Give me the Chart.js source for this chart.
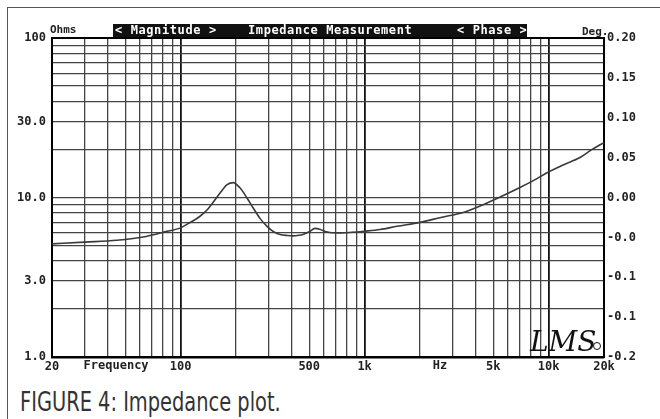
<!DOCTYPE html>
<html>
<head>
<meta charset="utf-8">
<script src="https://cdn.jsdelivr.net/npm/chart.js@4/dist/chart.umd.min.js"></script>
<style>
html, body { margin:0; padding:0; background:#fff; }
#page { position:relative; width:660px; height:419px; overflow:hidden; background:#fff; }
#frame { position:absolute; left:7px; top:7px; width:700px; height:500px; border-left:1.5px solid #555; border-top:1.5px solid #555; }
#wrap { position:absolute; left:0; top:0; width:660px; height:380px; }
#caption { position:absolute; left:20px; top:389px; line-height:26px; font-family:"Liberation Sans Narrow","DejaVu Sans Condensed",sans-serif; font-size:26px; color:#333; white-space:nowrap; transform:scaleX(0.83); transform-origin:left top; }
</style>
</head>
<body>
<div id="page">
  <div id="frame"></div>
  <div id="wrap"><canvas id="myChart1"></canvas></div>
  <div id="caption">FIGURE 4: Impedance plot.</div>
</div>
<script>
//------------------ data ------------------//
// frequency (Hz) and impedance magnitude (Ohms)
const freqHz = [20, 30, 45, 65, 84, 100, 108, 127, 140, 150, 165, 179, 193, 210, 230, 247, 270, 295, 320, 347,
                380, 408, 440, 462, 500, 537, 575, 610, 648, 750, 850, 1000, 1213, 1500, 2000, 2600, 3428, 4300,
                5240, 6985, 8300, 9800, 12000, 14800, 17000, 20000]
const impedanceOhms = [5.12, 5.25, 5.39, 5.7, 6.13, 6.45, 6.78, 7.6, 8.4, 9.3, 10.8, 12.05, 12.4, 11.5, 9.9, 8.66, 7.4, 6.59, 6.1, 5.87,
                       5.78, 5.75, 5.8, 5.87, 6.1, 6.4, 6.3, 6.13, 6.04, 6.0, 6.05, 6.15, 6.3, 6.6, 6.98, 7.5, 8.06, 8.9,
                       9.86, 11.55, 12.8, 14.3, 16.0, 17.8, 19.8, 22.1]

// grid ticks
const freqTicks = [20, 30, 40, 50, 60, 70, 80, 90, 100, 200, 300, 400, 500, 600, 700, 800, 900,
                   1000, 2000, 3000, 4000, 5000, 6000, 7000, 8000, 9000, 10000, 20000]
const freqLabels = {20: '20', 100: '100', 500: '500', 1000: '1k', 5000: '5k', 10000: '10k', 20000: '20k'}
const ohmTicks = [1, 2, 3, 4, 5, 6, 7, 8, 9, 10, 20, 30, 40, 50, 60, 70, 80, 90, 100]
const ohmLabels = {1: '1.0', 3: '3.0', 10: '10.0', 30: '30.0', 100: '100'}
const phaseLabels = ['-0.2', '-0.1', '-0.1', '-0.0', '0.00', '0.05', '0.10', '0.15', '0.20']

// axis captions on the frequency row: [text, position in Hz]
const axisCaptions = [['Frequency', 44.6], ['Hz', 2570]]

const CHART_ID = 'myChart1'
const TICK_FONT = {family: 'DejaVu Sans Mono', size: 12, weight: 'bold'}
//------------------------------------------//

/*--------------------------------------------------------------------
decoration: title bar, unit labels, axis captions, logo
--------------------------------------------------------------------*/
const decorPlugin = {
    id: 'decor',
    afterDraw(chart) {
        const ctx = chart.ctx
        const a = chart.chartArea
        const xs = chart.scales.x
        ctx.save()

        // black title bar
        ctx.fillStyle = '#111'
        ctx.fillRect(a.left + 61, a.top - 14, 414, 13)
        ctx.fillStyle = '#fff'
        ctx.font = 'bold 12px "DejaVu Sans Mono"'
        ctx.letterSpacing = '0.6px'
        ctx.textBaseline = 'middle'
        ctx.textAlign = 'left'
        ctx.fillText('< Magnitude >', 115, a.top - 7.5)
        ctx.fillText('Impedance Measurement', 248, a.top - 7.5)
        ctx.fillText('< Phase >', 457, a.top - 7.5)

        // units
        ctx.letterSpacing = '0px'
        ctx.fillStyle = '#222'
        ctx.font = 'bold 11px "DejaVu Sans Mono"'
        ctx.fillText('Ohms', 50, a.top - 8)
        ctx.fillText('Deg.', 582, a.top - 6)

        // captions on frequency row
        ctx.font = 'bold 12px "DejaVu Sans Mono"'
        ctx.textAlign = 'center'
        axisCaptions.forEach(function(c) {
            ctx.fillText(c[0], xs.getPixelForValue(c[1]), a.bottom + 9)
        })

        // LMS logo
        ctx.fillStyle = '#111'
        ctx.textAlign = 'left'
        ctx.textBaseline = 'alphabetic'
        ctx.font = 'italic 28px "DejaVu Serif"'
        ctx.fillText('LMS', a.right - 74, a.bottom - 6)
        ctx.beginPath()
        ctx.arc(a.right - 7, a.bottom - 11, 3.5, 0, Math.PI * 2)
        ctx.lineWidth = 1
        ctx.strokeStyle = '#111'
        ctx.stroke()
        ctx.restore()
    }
}

/*--------------------------------------------------------------------
grid style helpers
--------------------------------------------------------------------*/
function isDecade(v) {
    const l = Math.log10(v)
    return Math.abs(l - Math.round(l)) < 1e-6
}

/*--------------------------------------------------------------------
plot
--------------------------------------------------------------------*/
function plotChart(chart_id) {
    const points = freqHz.map(function(f, i) { return {x: f, y: impedanceOhms[i]} })
    const ctx = document.getElementById(chart_id)

    window.myChart = new Chart(ctx, {
        type: 'line',
        data: {
            datasets: [{
                label: 'Impedance',
                data: points,
                borderColor: '#3a3a3a',
                borderWidth: 1.6,
                pointRadius: 0,
                fill: false,
                cubicInterpolationMode: 'monotone',
                yAxisID: 'y'
            }]
        },
        options: {
            responsive: true,
            maintainAspectRatio: false,
            animation: false,
            layout: {padding: {top: 38, left: 0, right: 0, bottom: 0}},
            plugins: {legend: {display: false}, tooltip: {enabled: false}},
            scales: {
                x: {
                    type: 'logarithmic',
                    min: 20,
                    max: 20000,
                    afterBuildTicks: function(scale) { scale.ticks = freqTicks.map(function(v) { return {value: v} }) },
                    afterFit: function(scale) { scale.height = 23 },
                    ticks: {
                        autoSkip: false, maxRotation: 0, padding: 3,
                        font: TICK_FONT, color: '#222',
                        callback: function(v) { return freqLabels[v] || '' }
                    },
                    grid: {
                        drawTicks: false,
                        color: function(c) { return isDecade(c.tick.value) ? '#111' : '#444' },
                        lineWidth: function(c) { return isDecade(c.tick.value) ? 1.8 : 1.3 }
                    },
                    border: {display: true, color: '#000', width: 2.5}
                },
                y: {
                    type: 'logarithmic',
                    position: 'left',
                    min: 1,
                    max: 100,
                    afterBuildTicks: function(scale) { scale.ticks = ohmTicks.map(function(v) { return {value: v} }) },
                    afterFit: function(scale) { scale.width = 52 },
                    ticks: {
                        autoSkip: false, padding: 6,
                        font: TICK_FONT, color: '#222',
                        callback: function(v) { return ohmLabels[v] || '' }
                    },
                    grid: {
                        drawTicks: false,
                        color: function(c) { return c.tick.value == 100 ? '#000' : '#444' },
                        lineWidth: function(c) { return c.tick.value == 100 ? 2 : 1.2 }
                    },
                    border: {display: true, color: '#000', width: 2}
                },
                y2: {
                    type: 'linear',
                    position: 'right',
                    min: -0.2,
                    max: 0.2,
                    afterFit: function(scale) { scale.width = 56 },
                    ticks: {
                        stepSize: 0.05, padding: 3,
                        font: TICK_FONT, color: '#222',
                        callback: function(v, i) { return phaseLabels[i] }
                    },
                    grid: {display: false, drawTicks: false},
                    border: {display: true, color: '#000', width: 2}
                }
            }
        },
        plugins: [decorPlugin]
    })
}

plotChart(CHART_ID)
</script>
</body>
</html>
